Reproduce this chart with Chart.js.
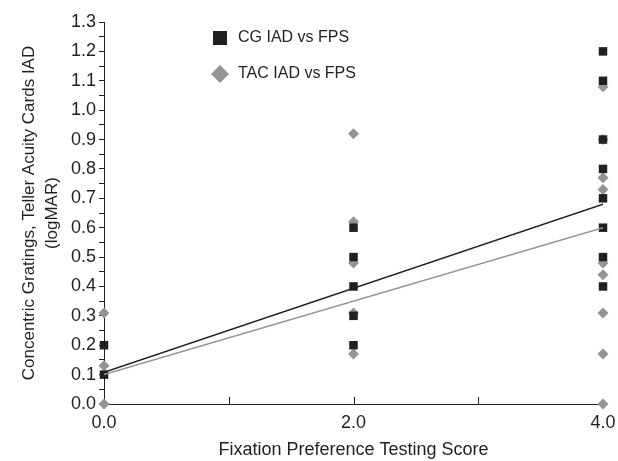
<!DOCTYPE html>
<html>
<head>
<meta charset="utf-8">
<script src="https://cdn.jsdelivr.net/npm/chart.js@4/dist/chart.umd.min.js"></script>
<style>
  html, body { margin: 0; padding: 0; background: #fff; }
  #wrap { width: 618px; height: 461px; }
</style>
</head>
<body>
<div id="wrap"><canvas id="grafico" width="618" height="461"></canvas></div>
<script>
// puntos
const cgX = [0, 0, 2, 2, 2, 2, 2, 4, 4, 4, 4, 4, 4, 4, 4];
const cgY = [0.1, 0.2, 0.6, 0.5, 0.4, 0.3, 0.2, 1.2, 1.1, 0.9, 0.8, 0.7, 0.6, 0.5, 0.4];
const tacX = [0, 0, 0, 2, 2, 2, 2, 2, 4, 4, 4, 4, 4, 4, 4, 4, 4];
const tacY = [0.0, 0.13, 0.31, 0.92, 0.62, 0.48, 0.31, 0.17, 1.08, 0.9, 0.77, 0.73, 0.48, 0.44, 0.31, 0.17, 0.0];
// rectas de regresion
const fitX = [0, 4];
const cgFit = [0.108, 0.68];
const tacFit = [0.1, 0.6];

const NEGRO = '#231f20';
const GRIS = '#949494';
const fuente = "'Liberation Sans', Arial, sans-serif";

const toPts = (xs, ys) => xs.map((x, i) => ({ x: x, y: ys[i] }));

const leyenda = {
  id: 'leyenda',
  afterDraw(chart) {
    const ctx = chart.ctx;
    ctx.save();
    ctx.fillStyle = NEGRO;
    ctx.fillRect(213, 31, 14, 14);
    ctx.fillStyle = GRIS;
    ctx.beginPath();
    ctx.moveTo(220, 65); ctx.lineTo(229, 74); ctx.lineTo(220, 83); ctx.lineTo(211, 74);
    ctx.closePath();
    ctx.fill();
    ctx.fillStyle = NEGRO;
    ctx.font = '16px ' + fuente;
    ctx.textBaseline = 'middle';
    ctx.fillText('CG IAD vs FPS', 238, 38);
    ctx.fillText('TAC IAD vs FPS', 238, 74);
    ctx.restore();
  }
};

// marcas del eje x hacia dentro
const marcasX = {
  id: 'marcasX',
  afterDraw(chart) {
    const ctx = chart.ctx;
    const sx = chart.scales.x;
    const bottom = chart.chartArea.bottom;
    ctx.save();
    ctx.strokeStyle = NEGRO;
    ctx.lineWidth = 1;
    [1, 2, 3].forEach((v) => {
      const px = Math.round(sx.getPixelForValue(v)) + 0.5;
      ctx.beginPath();
      ctx.moveTo(px, bottom);
      ctx.lineTo(px, bottom - 7);
      ctx.stroke();
    });
    ctx.restore();
  }
};

const chart = new Chart(document.getElementById('grafico'), {
  type: 'scatter',
  data: {
    datasets: [
      {
        label: 'CG IAD vs FPS',
        data: toPts(cgX, cgY),
        pointStyle: 'rect',
        pointRadius: 6,
        pointHoverRadius: 6,
        backgroundColor: NEGRO,
        borderColor: NEGRO,
        borderWidth: 0,
        clip: false,
        order: 1,
      },
      {
        label: 'TAC IAD vs FPS',
        data: toPts(tacX, tacY),
        pointStyle: 'rectRot',
        pointRadius: 5.5,
        pointHoverRadius: 5.5,
        backgroundColor: GRIS,
        borderColor: GRIS,
        borderWidth: 0,
        clip: false,
        order: 2,
      },
      {
        type: 'line',
        label: 'CG fit',
        data: toPts(fitX, cgFit),
        borderColor: NEGRO,
        borderWidth: 1.5,
        pointRadius: 0,
        fill: false,
        order: 0,
      },
      {
        type: 'line',
        label: 'TAC fit',
        data: toPts(fitX, tacFit),
        borderColor: GRIS,
        borderWidth: 1.5,
        pointRadius: 0,
        fill: false,
        order: 0,
      },
    ],
  },
  options: {
    responsive: false,
    animation: false,
    layout: { padding: { left: 0, right: 15, top: 22, bottom: 0 } },
    plugins: {
      legend: { display: false },
      tooltip: { enabled: false },
    },
    scales: {
      x: {
        type: 'linear',
        min: 0,
        max: 4,
        afterFit: (scale) => {
          scale.height = 57;
          scale.paddingRight = 0;
          scale.paddingLeft = 0;
        },
        border: { display: true, color: NEGRO, width: 1 },
        grid: { display: false, drawTicks: false },
        ticks: {
          stepSize: 1,
          padding: 8,
          color: NEGRO,
          font: { family: fuente, size: 18 },
          callback: (v) => (v % 2 === 0 ? v.toFixed(1) : ''),
        },
        title: {
          display: true,
          text: 'Fixation Preference Testing Score',
          color: NEGRO,
          font: { family: fuente, size: 18 },
          padding: { top: 4, bottom: 0 },
        },
      },
      y: {
        type: 'linear',
        min: 0,
        max: 1.3,
        afterFit: (scale) => { scale.width = 104; },
        border: { display: true, color: NEGRO, width: 1 },
        grid: {
          drawOnChartArea: false,
          drawTicks: true,
          tickLength: 5,
          color: NEGRO,
        },
        ticks: {
          stepSize: 0.05,
          padding: 3,
          color: NEGRO,
          font: { family: fuente, size: 18 },
          autoSkip: false,
          callback: (v) => {
            const r = Math.round(v * 100);
            return r % 10 === 0 ? (r / 100).toFixed(1) : '';
          },
        },
        title: {
          display: true,
          text: ['Concentric Gratings, Teller Acuity Cards IAD', '(logMAR)'],
          color: NEGRO,
          font: { family: fuente, size: 17, lineHeight: 1.4 },
          padding: { top: 17, bottom: 0 },
        },
      },
    },
  },
  plugins: [leyenda, marcasX],
});
</script>
</body>
</html>
